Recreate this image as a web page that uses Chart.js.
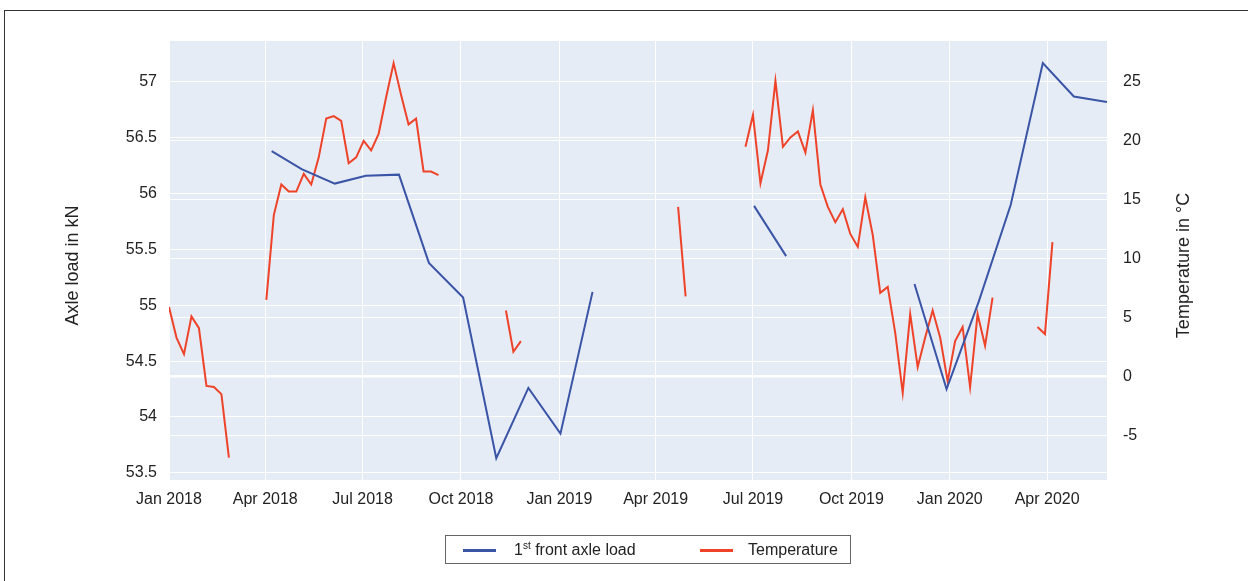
<!DOCTYPE html>
<html>
<head>
<meta charset="utf-8">
<script src="https://cdn.jsdelivr.net/npm/chart.js@4/dist/chart.umd.min.js"></script>
<style>
  body { margin: 0; background: #fff; font-family: "Liberation Sans", Arial, sans-serif; }
  #wrap { position: relative; width: 1248px; height: 581px; overflow: hidden; }
  #frame { position: absolute; left: 4px; top: 10px; width: 1400px; height: 700px;
           border-left: 1.5px solid #333; border-top: 1.5px solid #333; }
  #legend { position: absolute; left: 445px; top: 535px; width: 406px; height: 29px;
            box-sizing: border-box; border: 1px solid #666; background: #fff;
            font-size: 16px; color: #222; }
  #legend .swatch { position: absolute; top: 13px; width: 33px; height: 3px; }
  #legend .label { position: absolute; top: 0; line-height: 28px; white-space: nowrap; }
  #legend sup { font-size: 10px; vertical-align: 0; position: relative; top: -6px; }
</style>
</head>
<body>
<div id="wrap">
  <canvas id="chart" width="1248" height="581"></canvas>
  <div id="frame"></div>
  <div id="legend">
    <span class="swatch" style="left:17px;background:#3A54A6"></span>
    <span class="label" style="left:68px">1<sup>st</sup> front axle load</span>
    <span class="swatch" style="left:254px;background:#EE4229"></span>
    <span class="label" style="left:302px">Temperature</span>
  </div>
</div>
<script>
// monthly axle load (kN), null = no data
const loadDates = ['2018-04-07', '2018-05-05', '2018-06-05', '2018-07-04', '2018-08-04', '2018-09-01',
    '2018-10-03', '2018-11-03', '2018-12-03', '2019-01-02', '2019-02-01', '2019-04-15',
    '2019-07-02', '2019-08-01', '2019-10-01',
    '2019-11-29', '2019-12-29', '2020-01-28', '2020-02-27', '2020-03-28', '2020-04-26', '2020-05-27'];
const loadValues = [56.38, 56.22, 56.09, 56.16, 56.17, 55.38,
    55.07, 53.63, 54.26, 53.85, 55.12, null,
    55.89, 55.44, null,
    55.19, 54.25, 55.03, 55.90, 57.17, 56.87, 56.82];

// weekly temperature (°C), one run per continuous stretch
const tempRunStarts = ['2018-01-01', '2018-04-02', '2018-11-12', '2019-04-22', '2019-06-24', '2020-03-23'];
const tempRunValues = [
    [5.9, 3.3, 1.9, 5.1, 4.1, -0.8, -0.9, -1.5, -6.9],
    [6.5, 13.7, 16.3, 15.7, 15.7, 17.2, 16.3, 18.6, 21.9, 22.1, 21.7, 18.1,
     18.6, 20.0, 19.2, 20.6, 23.7, 26.6, 23.9, 21.4, 21.9, 17.4, 17.4, 17.1],
    [5.6, 2.1, 3.0],
    [14.4, 6.8],
    [19.5, 22.2, 16.4, 19.2, 25.1, 19.5, 20.3, 20.8, 19.0, 22.6, 16.3, 14.4,
     13.1, 14.2, 12.1, 11.0, 15.2, 12.0, 7.1, 7.6, 3.7, -1.4, 5.3, 0.8,
     3.3, 5.6, 3.3, -0.4, 3.0, 4.2, -0.9, 5.3, 2.6, 6.7],
    [4.2, 3.6, 11.4]
];

const tickDates = ['2018-01-01', '2018-04-01', '2018-07-01', '2018-10-01', '2019-01-01',
    '2019-04-01', '2019-07-01', '2019-10-01', '2020-01-01', '2020-04-01'];
const tickLabels = ['Jan 2018', 'Apr 2018', 'Jul 2018', 'Oct 2018', 'Jan 2019',
    'Apr 2019', 'Jul 2019', 'Oct 2019', 'Jan 2020', 'Apr 2020'];

const leftTitle = 'Axle load in kN';
const rightTitle = 'Temperature in °C';

const startDay = Date.UTC(2018, 0, 1);
function dayOf(s) {
    const p = s.split('-').map(Number);
    return (Date.UTC(p[0], p[1] - 1, p[2]) - startDay) / 86400000;
}

const loadPoints = loadDates.map((d, i) => ({ x: dayOf(d), y: loadValues[i] }));

const tempPoints = [];
tempRunValues.forEach((run, r) => {
    const first = dayOf(tempRunStarts[r]);
    run.forEach((v, i) => tempPoints.push({ x: first + 7 * i, y: v }));
    tempPoints.push({ x: first + 7 * run.length, y: null });
});

const tickDays = tickDates.map(dayOf);

const fontFamily = '"Liberation Sans", Arial, sans-serif';
const font = { family: fontFamily, size: 16 };
const textColor = '#222';

const plotBg = {
    id: 'plotBg',
    beforeDraw(chart) {
        const a = chart.chartArea;
        const ctx = chart.ctx;
        ctx.save();
        ctx.fillStyle = '#E5ECF6';
        ctx.fillRect(a.left, a.top, a.right - a.left, a.bottom - a.top);
        ctx.restore();
    }
};

// both axis titles read bottom-to-top, so draw them here
const axisTitles = {
    id: 'axisTitles',
    afterDraw(chart) {
        const ctx = chart.ctx;
        const midY = (chart.chartArea.top + chart.chartArea.bottom) / 2 + 5;
        ctx.save();
        ctx.fillStyle = textColor;
        ctx.font = '18px ' + fontFamily;
        ctx.textAlign = 'center';
        ctx.textBaseline = 'middle';
        [[73, leftTitle], [1184, rightTitle]].forEach(([x, t]) => {
            ctx.save();
            ctx.translate(x, midY);
            ctx.rotate(-Math.PI / 2);
            ctx.fillText(t, 0, 0);
            ctx.restore();
        });
        ctx.restore();
    }
};

new Chart(document.getElementById('chart'), {
    type: 'line',
    data: {
        datasets: [{
            label: '1st front axle load',
            data: loadPoints,
            yAxisID: 'y',
            borderColor: '#3A54A6',
            borderWidth: 2,
            pointRadius: 0,
            spanGaps: false,
            tension: 0
        }, {
            label: 'Temperature',
            data: tempPoints,
            yAxisID: 'y2',
            borderColor: '#EE4229',
            borderWidth: 2,
            pointRadius: 0,
            spanGaps: false,
            tension: 0
        }]
    },
    options: {
        responsive: false,
        animation: false,
        layout: { padding: { left: 60, right: 52, top: 41, bottom: 61 } },
        plugins: {
            legend: { display: false },
            tooltip: { enabled: false }
        },
        scales: {
            x: {
                type: 'linear',
                min: 0,
                max: 877,
                afterBuildTicks(scale) {
                    scale.ticks = tickDays.map(v => ({ value: v }));
                },
                afterFit(scale) { scale.height = 40; },
                ticks: {
                    callback: (v, i) => tickLabels[i],
                    autoSkip: false,
                    maxRotation: 0,
                    padding: 10,
                    color: textColor,
                    font: font
                },
                grid: { color: '#fff', lineWidth: 1, drawTicks: false },
                border: { display: false }
            },
            y: {
                position: 'left',
                min: 53.435,
                max: 57.367,
                afterFit(scale) { scale.width = 109; },
                ticks: {
                    stepSize: 0.5,
                    includeBounds: false,
                    callback: v => String(Math.round(v * 10) / 10),
                    padding: 12,
                    color: textColor,
                    font: font
                },
                grid: { color: '#fff', lineWidth: 1, drawTicks: false },
                border: { display: false }
            },
            y2: {
                position: 'right',
                min: -8.79,
                max: 28.48,
                afterFit(scale) { scale.width = 89; },
                ticks: {
                    stepSize: 5,
                    includeBounds: false,
                    callback: v => String(Math.round(v)),
                    padding: 16,
                    color: textColor,
                    font: font
                },
                grid: {
                    color: '#fff',
                    lineWidth: c => (c.tick && c.tick.value === 0 ? 2.5 : 1),
                    drawTicks: false
                },
                border: { display: false }
            }
        }
    },
    plugins: [plotBg, axisTitles]
});
</script>
</body>
</html>
